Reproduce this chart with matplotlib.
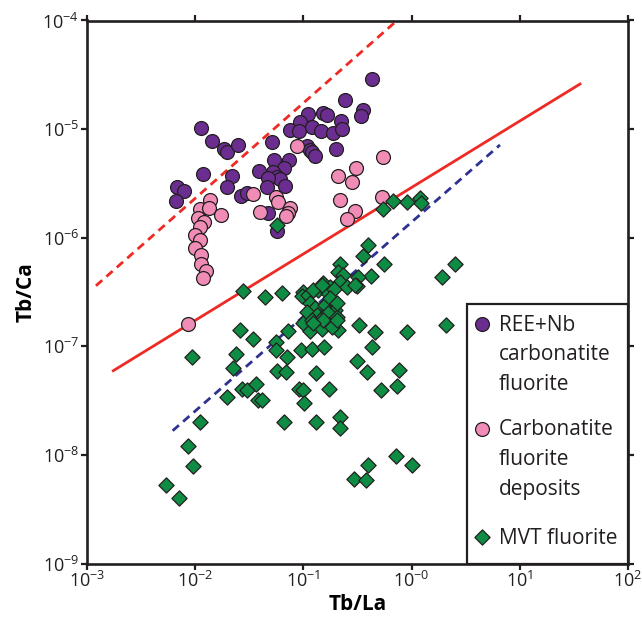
import matplotlib
matplotlib.use("Agg")
import matplotlib.pyplot as plt
from matplotlib.patches import Rectangle
from matplotlib.ticker import NullLocator

plt.rcParams['font.family'] = ['Open Sans', 'DejaVu Sans']
plt.rcParams['mathtext.fontset'] = 'custom'
plt.rcParams['mathtext.rm'] = 'Open Sans'
plt.rcParams['mathtext.bf'] = 'Open Sans:bold'

# REE+Nb carbonatite fluorite
ree_tb_la = [0.43, 0.242, 0.358, 0.34, 0.111, 0.151, 0.164, 0.093, 0.221, 0.075,
             0.0917, 0.121, 0.145, 0.189, 0.229, 0.0112, 0.0144, 0.0185, 0.0195, 0.0249,
             0.051, 0.107, 0.114, 0.121, 0.128, 0.201, 0.0119, 0.022, 0.0195, 0.00684,
             0.00793, 0.00668, 0.0265, 0.0299, 0.0389, 0.0538, 0.0741, 0.0662, 0.0527, 0.0566,
             0.0608, 0.0474, 0.0458, 0.0676, 0.0474, 0.0574]
ree_tb_ca = [2.89e-5, 1.85e-5, 1.5e-5, 1.32e-5, 1.38e-5, 1.40e-5, 1.35e-5, 1.17e-5, 1.19e-5, 9.8e-6,
             9.7e-6, 1.05e-5, 9.6e-6, 9.3e-6, 1.0e-5, 1.02e-5, 7.7e-6, 6.5e-6, 6.2e-6, 7.2e-6,
             7.6e-6, 7.0e-6, 6.4e-6, 6.1e-6, 5.7e-6, 6.5e-6, 3.9e-6, 3.7e-6, 2.9e-6, 2.9e-6,
             2.7e-6, 2.2e-6, 2.4e-6, 2.56e-6, 4.1e-6, 5.2e-6, 5.2e-6, 4.36e-6, 4.06e-6, 3.65e-6,
             3.45e-6, 3.52e-6, 2.95e-6, 2.99e-6, 1.7e-6, 1.16e-6]

# Carbonatite fluorite deposits
carb_tb_la = [0.0137, 0.0111, 0.0135, 0.0172, 0.0107, 0.0121, 0.0111, 0.0099, 0.0111, 0.0099,
              0.0112, 0.0112, 0.0125, 0.0119, 0.00863, 0.0344, 0.0397, 0.0558, 0.0578, 0.075,
              0.0725, 0.069, 0.0867, 0.207, 0.306, 0.284, 0.547, 0.22, 0.303, 0.253, 0.538]
carb_tb_ca = [2.22e-6, 1.83e-6, 1.87e-6, 1.62e-6, 1.51e-6, 1.40e-6, 1.26e-6, 1.06e-6, 9.5e-7, 7.98e-7,
              6.9e-7, 5.7e-7, 4.9e-7, 4.3e-7, 1.6e-7, 2.52e-6, 1.71e-6, 2.39e-6, 2.15e-6, 1.87e-6,
              1.68e-6, 1.58e-6, 7.0e-6, 3.7e-6, 4.36e-6, 3.28e-6, 5.5e-6, 2.22e-6, 1.77e-6, 1.49e-6, 2.39e-6]

# MVT fluorite
mvt_tb_la = [0.541, 0.677, 0.901, 1.2, 1.23, 0.0574, 0.398, 0.358, 0.556, 0.22,
             2.52, 1.9, 0.422, 0.323, 0.0279, 0.0442, 0.0631, 0.311, 0.0257, 0.034,
             0.0718, 0.0986, 0.115, 0.148, 0.21, 0.329, 0.459, 0.901, 2.07, 0.43,
             0.0093, 0.0237, 0.0224, 0.0564, 0.056, 0.0705, 0.0955, 0.121, 0.155, 0.057,
             0.069, 0.13, 0.313, 0.385, 0.768, 0.0198, 0.0269, 0.0301, 0.0362, 0.0377,
             0.0412, 0.092, 0.0999, 0.101, 0.171, 0.525, 0.738, 0.0111, 0.0665, 0.13,
             0.22, 0.22, 0.00863, 0.0096, 0.00535, 0.00708, 0.718, 1.0, 0.395, 0.294,
             0.379,
             0.21, 0.234, 0.153, 0.218, 0.251, 0.176, 0.137, 0.1, 0.0964, 0.111,
             0.17, 0.193, 0.115, 0.128, 0.158, 0.176, 0.196, 0.107, 0.133, 0.119,
             0.153, 0.17, 0.203, 0.3, 0.123, 0.149, 0.203, 0.153, 0.123, 0.183, 0.203]
mvt_tb_ca = [1.85e-6, 2.19e-6, 2.14e-6, 2.31e-6, 2.09e-6, 1.31e-6, 8.57e-7, 6.78e-7, 5.73e-7, 5.73e-7,
             5.73e-7, 4.38e-7, 4.44e-7, 4.38e-7, 3.25e-7, 2.86e-7, 3.12e-7, 3.59e-7, 1.41e-7, 1.16e-7,
             1.39e-7, 1.63e-7, 1.39e-7, 1.44e-7, 1.40e-7, 1.57e-7, 1.36e-7, 1.35e-7, 1.56e-7, 9.9e-8,
             7.9e-8, 8.5e-8, 6.3e-8, 1.10e-7, 9.3e-8, 7.96e-8, 9.25e-8, 9.4e-8, 9.8e-8, 5.9e-8,
             5.83e-8, 5.64e-8, 7.36e-8, 5.86e-8, 6.05e-8, 3.44e-8, 4.05e-8, 3.96e-8, 4.5e-8, 3.18e-8,
             3.18e-8, 4.07e-8, 3.96e-8, 2.99e-8, 4.02e-8, 3.96e-8, 4.33e-8, 2.02e-8, 2.02e-8, 2.02e-8,
             2.23e-8, 1.77e-8, 1.22e-8, 7.9e-9, 5.28e-9, 4.03e-9, 9.8e-9, 8.0e-9, 8.1e-9, 5.96e-9,
             5.87e-9,
             4.86e-7, 4.54e-7, 3.8e-7, 3.94e-7, 3.54e-7, 3.54e-7, 3.3e-7, 3.18e-7, 2.9e-7, 2.97e-7,
             3.08e-7, 3.35e-7, 2.49e-7, 2.24e-7, 2.4e-7, 2.77e-7, 2.16e-7, 2.08e-7, 1.94e-7, 1.75e-7,
             1.87e-7, 2.01e-7, 1.87e-7, 3.66e-7, 3.3e-7, 3.66e-7, 2.49e-7, 1.75e-7, 1.63e-7, 1.52e-7, 1.75e-7]

# boundary / trend lines (end points)
red_dash_x = [1.21e-3, 0.733]
red_dash_y = [3.61e-7, 1e-4]
red_solid_x = [1.75e-3, 36]
red_solid_y = [5.96e-8, 2.6e-5]
blue_dash_x = [6.19e-3, 6.56]
blue_dash_y = [1.67e-8, 7.15e-6]

x_ticks = [1e-3, 1e-2, 1e-1, 1e0, 1e1, 1e2]
x_tick_labels = ['10$^{-3}$', '10$^{-2}$', '10$^{-1}$', '10$^{-0}$', '10$^{1}$', '10$^{2}$']
y_ticks = [1e-9, 1e-8, 1e-7, 1e-6, 1e-5, 1e-4]
y_tick_labels = ['10$^{-9}$', '10$^{-8}$', '10$^{-7}$', '10$^{-6}$', '10$^{-5}$', '10$^{-4}$']

purple = '#6b2d90'
pink = '#f08cb6'
green = '#0f8c44'
edge = '#231f20'

fig = plt.figure(figsize=(6.42, 6.18), dpi=100)
ax = fig.add_axes([87 / 642, 1 - 563.5 / 618, 541 / 642, 543 / 618])
ax.set_xscale('log')
ax.set_yscale('log')
ax.set_xlim(1e-3, 1e2)
ax.set_ylim(1e-9, 1e-4)

ax.plot(red_dash_x, red_dash_y, color='#ee2a24', lw=2.0, ls=(0, (3, 2)), zorder=1)
ax.plot(red_solid_x, red_solid_y, color='#ee2a24', lw=2.0, zorder=1)
ax.plot(blue_dash_x, blue_dash_y, color='#2e3192', lw=2.0, ls=(0, (3, 2)), zorder=1)

ax.scatter(ree_tb_la, ree_tb_ca, s=100, marker='o', c=purple, edgecolors=edge, linewidths=0.9, zorder=3)
ax.scatter(carb_tb_la, carb_tb_ca, s=100, marker='o', c=pink, edgecolors=edge, linewidths=0.9, zorder=4)
ax.scatter(mvt_tb_la, mvt_tb_ca, s=60, marker='D', c=green, edgecolors=edge, linewidths=0.9, zorder=5)

ax.set_xticks(x_ticks)
ax.set_xticklabels(x_tick_labels)
ax.set_yticks(y_ticks)
ax.set_yticklabels(y_tick_labels)
ax.xaxis.set_minor_locator(NullLocator())
ax.yaxis.set_minor_locator(NullLocator())
ax.tick_params(which='major', direction='out', length=4.5, width=1.6, labelsize=13,
               top=True, right=True, pad=1, colors='#231f20')
for sp in ax.spines.values():
    sp.set_linewidth(1.9)
    sp.set_color('#231f20')

ax.set_xlabel('Tb/La', fontsize=15, fontweight='bold', labelpad=2)
ax.set_ylabel('Tb/Ca', fontsize=15, fontweight='bold', labelpad=4)

# legend box
box_x0 = (467 - 87) / 541
box_h = (563.5 - 303.5) / 543
ax.add_patch(Rectangle((box_x0, 0), 1 - box_x0, box_h, transform=ax.transAxes,
                       facecolor='white', edgecolor='#231f20', lw=1.6, zorder=6, clip_on=False))
leg_items = [
    ('o', purple, 100, 'REE+Nb\ncarbonatite\nfluorite', 0.4414, 0.4582),
    ('o', pink, 100, 'Carbonatite\nfluorite\ndeposits', 0.2486, 0.2652),
    ('D', green, 60, 'MVT fluorite', 0.0495, 0.0661),
]
mk_x = (481.7 - 87) / 541
tx_x = (499 - 87) / 541
for mk, col, sz, lab, ym, yt in leg_items:
    ax.scatter([mk_x], [ym], s=sz, marker=mk, c=col, edgecolors=edge, linewidths=0.9,
               transform=ax.transAxes, zorder=7, clip_on=False)
    ax.text(tx_x, yt, lab, transform=ax.transAxes, fontsize=15, va='top',
            ha='left', linespacing=1.55, color='#231f20', zorder=7)

fig.savefig('out.png', dpi=100)
